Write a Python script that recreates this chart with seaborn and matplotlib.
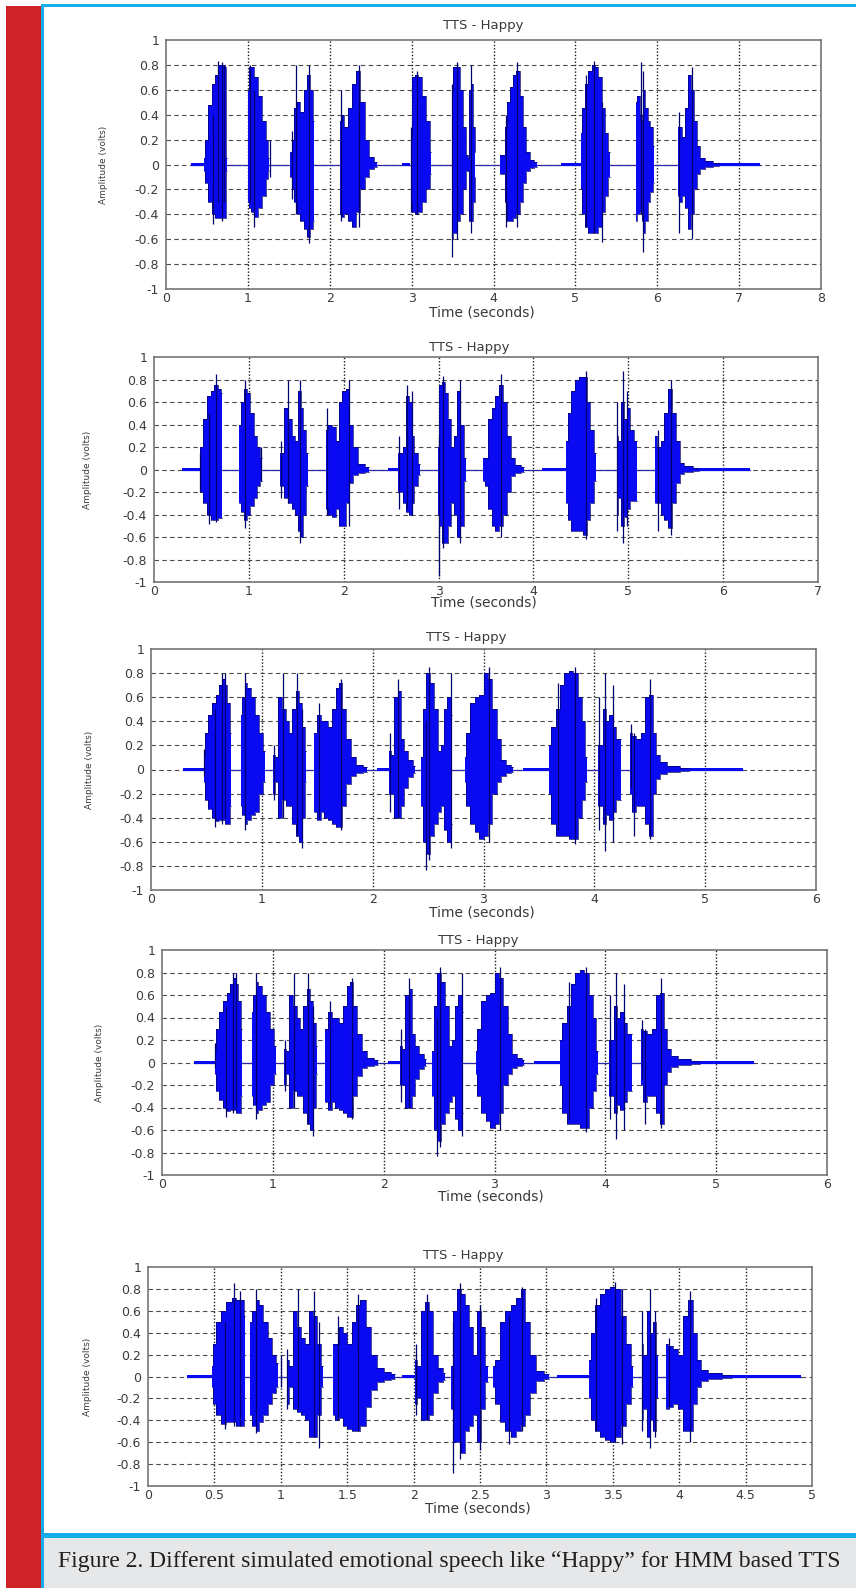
import matplotlib
matplotlib.use("Agg")
import matplotlib.pyplot as plt
import seaborn as sns
from matplotlib.patches import Rectangle

W, H = 856, 1588

# ---------------- panel 1 (0..8 s) ----------------
p1_xmax = 8
p1_span = (0.30, 7.25)
p1_quiet = [(0.30, 0.46), (2.88, 2.98), (4.82, 5.07), (6.75, 7.25)]
p1_t = [
    [0.47, 0.49, 0.54, 0.58, 0.62, 0.66, 0.70, 0.73, 0.74],
    [1.00, 1.02, 1.05, 1.10, 1.15, 1.20, 1.24, 1.26],
    [1.52, 1.55, 1.58, 1.62, 1.66, 1.70, 1.74, 1.78, 1.81],
    [2.13, 2.16, 2.20, 2.25, 2.30, 2.35, 2.40, 2.45, 2.50, 2.58],
    [2.99, 3.02, 3.06, 3.10, 3.15, 3.20, 3.24],
    [3.49, 3.53, 3.57, 3.61, 3.65, 3.68, 3.69, 3.71, 3.74, 3.76, 3.78],
    [4.08, 4.13, 4.14, 4.18, 4.22, 4.26, 4.30, 4.34, 4.38, 4.42, 4.47, 4.53],
    [5.07, 5.10, 5.14, 5.18, 5.22, 5.26, 5.30, 5.34, 5.38, 5.42],
    [5.74, 5.77, 5.80, 5.82, 5.84, 5.87, 5.90, 5.93, 5.96],
    [6.25, 6.28, 6.32, 6.36, 6.40, 6.43, 6.46, 6.50, 6.55, 6.62, 6.75],
]
p1_up = [
    [0.05, 0.2, 0.48, 0.65, 0.72, 0.80, 0.80, 0.78, 0.05],
    [0.6, 0.78, 0.78, 0.7, 0.55, 0.35, 0.2, 0.05],
    [0.1, 0.2, 0.45, 0.5, 0.42, 0.6, 0.72, 0.6, 0.35],
    [0.35, 0.4, 0.3, 0.45, 0.65, 0.75, 0.5, 0.2, 0.06, 0.02],
    [0.2, 0.7, 0.72, 0.7, 0.55, 0.35, 0.1],
    [0.6, 0.78, 0.78, 0.6, 0.3, 0.08, 0.05, 0.6, 0.65, 0.3, 0.1],
    [0.08, 0.08, 0.3, 0.5, 0.62, 0.72, 0.75, 0.55, 0.3, 0.1, 0.04, 0.02],
    [0.25, 0.45, 0.65, 0.75, 0.8, 0.78, 0.7, 0.45, 0.25, 0.1],
    [0.5, 0.55, 0.4, 0.35, 0.6, 0.45, 0.35, 0.3, 0.15],
    [0.3, 0.3, 0.22, 0.45, 0.72, 0.6, 0.35, 0.15, 0.05, 0.03, 0.015],
]
p1_lo = [
    [-0.05, -0.15, -0.3, -0.4, -0.43, -0.43, -0.43, -0.43, -0.05],
    [-0.3, -0.35, -0.38, -0.42, -0.35, -0.25, -0.12, -0.05],
    [-0.1, -0.2, -0.3, -0.4, -0.45, -0.52, -0.58, -0.52, -0.45],
    [-0.4, -0.42, -0.4, -0.45, -0.5, -0.38, -0.2, -0.1, -0.04, -0.02],
    [-0.3, -0.38, -0.4, -0.38, -0.3, -0.2, -0.08],
    [-0.6, -0.55, -0.45, -0.4, -0.2, -0.05, -0.05, -0.45, -0.45, -0.3, -0.1],
    [-0.08, -0.08, -0.3, -0.45, -0.45, -0.43, -0.4, -0.3, -0.15, -0.05, -0.03, -0.02],
    [-0.2, -0.4, -0.5, -0.55, -0.55, -0.55, -0.5, -0.38, -0.25, -0.1],
    [-0.45, -0.4, -0.38, -0.45, -0.55, -0.45, -0.3, -0.22, -0.15],
    [-0.25, -0.3, -0.25, -0.35, -0.52, -0.4, -0.2, -0.08, -0.04, -0.02, -0.01],
]
p1_spikes = [(0.58, 0.4, -0.48), (0.64, 0.83, -0.3), (0.69, 0.82, -0.45), (0.71, 0.8, -0.3),
             (1.03, 0.8, -0.3), (1.08, 0.6, -0.5), (1.27, 0.2, -0.1), (1.54, 0.27, -0.28),
             (1.59, 0.8, -0.4), (1.75, 0.8, -0.63), (2.14, 0.6, -0.45), (2.36, 0.8, -0.5),
             (2.99, 0.3, -0.38), (3.07, 0.75, -0.4), (3.49, 0.65, -0.74), (3.55, 0.82, -0.6),
             (3.72, 0.8, -0.55), (4.15, 0.4, -0.5), (4.29, 0.82, -0.5), (5.13, 0.72, -0.5),
             (5.23, 0.83, -0.55), (5.32, 0.5, -0.62), (5.80, 0.82, -0.4), (5.83, 0.75, -0.7),
             (6.27, 0.42, -0.55), (6.42, 0.78, -0.6)]

# ---------------- panel 2 (0..7 s) ----------------
p2_xmax = 7
p2_span = (0.29, 6.28)
p2_quiet = [(0.29, 0.48), (2.47, 2.57), (4.09, 4.34), (5.75, 6.28)]
p2_t = [
    [0.48, 0.50, 0.54, 0.58, 0.62, 0.65, 0.69, 0.72],
    [0.90, 0.93, 0.96, 1.00, 1.03, 1.07, 1.10, 1.14],
    [1.33, 1.36, 1.39, 1.43, 1.47, 1.50, 1.53, 1.56, 1.59, 1.62],
    [1.81, 1.85, 1.90, 1.93, 1.97, 2.00, 2.04, 2.08, 2.12, 2.18, 2.27],
    [2.57, 2.60, 2.64, 2.67, 2.70, 2.73, 2.76, 2.80],
    [2.99, 3.02, 3.05, 3.08, 3.12, 3.15, 3.18, 3.21, 3.24, 3.29],
    [3.47, 3.50, 3.54, 3.58, 3.62, 3.66, 3.70, 3.74, 3.78, 3.84, 3.90],
    [4.34, 4.38, 4.42, 4.46, 4.50, 4.54, 4.58, 4.62, 4.66],
    [4.88, 4.91, 4.94, 4.97, 5.00, 5.04, 5.09],
    [5.28, 5.32, 5.36, 5.40, 5.44, 5.48, 5.52, 5.56, 5.62, 5.75],
]
p2_up = [
    [0.15, 0.2, 0.45, 0.65, 0.7, 0.75, 0.72, 0.68],
    [0.4, 0.6, 0.72, 0.68, 0.5, 0.3, 0.2, 0.1],
    [0.15, 0.15, 0.55, 0.45, 0.3, 0.25, 0.7, 0.55, 0.35, 0.15],
    [0.35, 0.4, 0.38, 0.25, 0.6, 0.7, 0.72, 0.4, 0.2, 0.05, 0.02],
    [0.15, 0.15, 0.2, 0.65, 0.6, 0.3, 0.15, 0.05],
    [0.2, 0.75, 0.78, 0.68, 0.45, 0.2, 0.3, 0.7, 0.4, 0.1],
    [0.1, 0.1, 0.45, 0.55, 0.65, 0.75, 0.6, 0.3, 0.1, 0.04, 0.02],
    [0.25, 0.5, 0.7, 0.8, 0.82, 0.82, 0.6, 0.35, 0.15],
    [0.3, 0.25, 0.6, 0.45, 0.55, 0.35, 0.25],
    [0.3, 0.2, 0.25, 0.5, 0.72, 0.5, 0.25, 0.06, 0.03, 0.015],
]
p2_lo = [
    [-0.15, -0.2, -0.3, -0.4, -0.45, -0.45, -0.43, -0.43],
    [-0.3, -0.38, -0.45, -0.4, -0.32, -0.25, -0.15, -0.1],
    [-0.15, -0.15, -0.25, -0.3, -0.35, -0.4, -0.55, -0.6, -0.4, -0.15],
    [-0.35, -0.4, -0.42, -0.35, -0.5, -0.5, -0.3, -0.12, -0.05, -0.03, -0.02],
    [-0.2, -0.2, -0.3, -0.38, -0.4, -0.3, -0.15, -0.05],
    [-0.4, -0.5, -0.65, -0.65, -0.5, -0.3, -0.4, -0.6, -0.5, -0.1],
    [-0.1, -0.15, -0.35, -0.5, -0.55, -0.5, -0.4, -0.2, -0.06, -0.03, -0.02],
    [-0.3, -0.45, -0.55, -0.55, -0.55, -0.58, -0.45, -0.3, -0.1],
    [-0.4, -0.25, -0.5, -0.42, -0.35, -0.28, -0.28],
    [-0.3, -0.3, -0.4, -0.45, -0.52, -0.3, -0.12, -0.04, -0.02, -0.01],
]
p2_spikes = [(0.49, 0.15, -0.2), (0.58, 0.5, -0.48), (0.65, 0.85, -0.47), (0.96, 0.8, -0.52),
             (1.13, 0.2, -0.1), (1.34, 0.25, -0.25), (1.41, 0.8, -0.3), (1.54, 0.8, -0.65),
             (1.82, 0.55, -0.4), (2.06, 0.8, -0.5), (2.58, 0.3, -0.35), (2.67, 0.75, -0.35),
             (2.72, 0.7, -0.4), (3.00, 0.3, -0.95), (3.05, 0.83, -0.7), (3.23, 0.8, -0.65),
             (3.66, 0.85, -0.6), (4.55, 0.88, -0.62), (4.88, 0.6, -0.55), (4.94, 0.88, -0.65),
             (4.99, 0.7, -0.5), (5.31, 0.35, -0.55), (5.45, 0.8, -0.58)]

# ---------------- panel 3 (0..6 s), panel 4 shows the same signal ----------------
p3_xmax = 6
p3_span = (0.29, 5.34)
p3_quiet = [(0.29, 0.48), (2.04, 2.15), (3.36, 3.59), (4.85, 5.34)]
p3_t = [
    [0.48, 0.50, 0.53, 0.57, 0.60, 0.63, 0.66, 0.68, 0.70, 0.72],
    [0.81, 0.84, 0.86, 0.88, 0.92, 0.95, 1.00, 1.03],
    [1.10, 1.13, 1.17, 1.20, 1.23, 1.26, 1.29, 1.32, 1.35, 1.38, 1.40],
    [1.47, 1.52, 1.55, 1.58, 1.62, 1.65, 1.68, 1.71, 1.74, 1.78, 1.82, 1.88, 1.95],
    [2.15, 2.18, 2.21, 2.24, 2.27, 2.30, 2.34, 2.38],
    [2.44, 2.47, 2.50, 2.54, 2.57, 2.60, 2.63, 2.66, 2.69, 2.72],
    [2.83, 2.86, 2.90, 2.94, 2.98, 3.02, 3.06, 3.10, 3.14, 3.18, 3.22, 3.27],
    [3.59, 3.63, 3.67, 3.71, 3.75, 3.79, 3.83, 3.87, 3.90, 3.93],
    [4.03, 4.06, 4.09, 4.12, 4.15, 4.18, 4.21, 4.24],
    [4.32, 4.36, 4.40, 4.44, 4.48, 4.51, 4.54, 4.57, 4.61, 4.70, 4.85],
]
p3_up = [
    [0.12, 0.3, 0.45, 0.55, 0.62, 0.7, 0.75, 0.7, 0.55, 0.3],
    [0.45, 0.6, 0.72, 0.68, 0.6, 0.45, 0.3, 0.15],
    [0.12, 0.1, 0.6, 0.5, 0.4, 0.3, 0.5, 0.65, 0.55, 0.35, 0.15],
    [0.3, 0.45, 0.4, 0.4, 0.35, 0.5, 0.68, 0.72, 0.5, 0.25, 0.1, 0.04, 0.02],
    [0.15, 0.12, 0.6, 0.65, 0.25, 0.15, 0.08, 0.03],
    [0.1, 0.5, 0.8, 0.72, 0.5, 0.15, 0.2, 0.5, 0.6, 0.45],
    [0.1, 0.3, 0.55, 0.6, 0.62, 0.8, 0.75, 0.5, 0.25, 0.08, 0.04, 0.02],
    [0.2, 0.35, 0.5, 0.7, 0.8, 0.82, 0.8, 0.6, 0.4, 0.1],
    [0.2, 0.2, 0.5, 0.4, 0.45, 0.35, 0.25, 0.25],
    [0.3, 0.28, 0.25, 0.3, 0.6, 0.62, 0.3, 0.12, 0.06, 0.03, 0.015],
]
p3_lo = [
    [-0.1, -0.25, -0.33, -0.4, -0.43, -0.42, -0.42, -0.45, -0.45, -0.3],
    [-0.3, -0.38, -0.45, -0.42, -0.38, -0.35, -0.2, -0.1],
    [-0.2, -0.1, -0.4, -0.25, -0.3, -0.3, -0.45, -0.55, -0.6, -0.4, -0.1],
    [-0.35, -0.42, -0.35, -0.4, -0.42, -0.45, -0.48, -0.48, -0.3, -0.12, -0.05, -0.03, -0.02],
    [-0.2, -0.2, -0.4, -0.4, -0.3, -0.15, -0.06, -0.03],
    [-0.3, -0.6, -0.7, -0.55, -0.45, -0.35, -0.3, -0.5, -0.6, -0.45],
    [-0.1, -0.3, -0.45, -0.52, -0.58, -0.55, -0.45, -0.2, -0.1, -0.05, -0.03, -0.02],
    [-0.2, -0.45, -0.55, -0.55, -0.55, -0.58, -0.58, -0.4, -0.25, -0.1],
    [-0.3, -0.3, -0.45, -0.38, -0.42, -0.35, -0.25, -0.25],
    [-0.2, -0.35, -0.3, -0.3, -0.45, -0.55, -0.2, -0.08, -0.04, -0.02, -0.01],
]
p3_spikes = [(0.48, 0.17, -0.05), (0.58, 0.5, -0.48), (0.64, 0.8, -0.45), (0.67, 0.8, -0.4),
             (0.85, 0.8, -0.5), (1.11, 0.2, -0.25), (1.19, 0.8, -0.4), (1.32, 0.8, -0.55),
             (1.36, 0.5, -0.65), (1.52, 0.55, -0.4), (1.71, 0.75, -0.5), (2.16, 0.3, -0.35),
             (2.23, 0.75, -0.4), (2.48, 0.4, -0.83), (2.51, 0.85, -0.75), (2.71, 0.8, -0.65),
             (3.05, 0.85, -0.6), (3.67, 0.72, -0.5), (3.83, 0.85, -0.62), (4.04, 0.6, -0.5),
             (4.10, 0.8, -0.68), (4.17, 0.7, -0.6), (4.33, 0.38, -0.15), (4.36, 0.3, -0.55),
             (4.50, 0.75, -0.58)]

# ---------------- panel 5 (0..5 s) ----------------
p5_xmax = 5
p5_span = (0.29, 4.92)
p5_quiet = [(0.29, 0.48), (1.91, 2.01), (3.08, 3.32), (4.40, 4.92)]
p5_t = [
    [0.48, 0.50, 0.53, 0.57, 0.61, 0.65, 0.68, 0.71, 0.73],
    [0.77, 0.80, 0.82, 0.85, 0.88, 0.92, 0.95, 0.98],
    [1.05, 1.08, 1.11, 1.14, 1.17, 1.20, 1.23, 1.26, 1.29, 1.32],
    [1.39, 1.42, 1.45, 1.48, 1.52, 1.55, 1.58, 1.62, 1.66, 1.70, 1.75, 1.80, 1.86],
    [2.01, 2.04, 2.07, 2.10, 2.13, 2.16, 2.20, 2.24],
    [2.28, 2.31, 2.34, 2.37, 2.40, 2.43, 2.46, 2.49, 2.52, 2.56],
    [2.60, 2.63, 2.67, 2.71, 2.75, 2.79, 2.82, 2.86, 2.90, 2.95, 3.02],
    [3.32, 3.35, 3.38, 3.42, 3.46, 3.50, 3.54, 3.58, 3.62, 3.65],
    [3.72, 3.74, 3.77, 3.79, 3.81, 3.84],
    [3.90, 3.93, 3.97, 4.01, 4.05, 4.09, 4.12, 4.15, 4.18, 4.25, 4.40],
]
p5_up = [
    [0.1, 0.3, 0.5, 0.6, 0.68, 0.72, 0.7, 0.7, 0.55],
    [0.5, 0.6, 0.7, 0.65, 0.5, 0.35, 0.2, 0.12],
    [0.15, 0.1, 0.6, 0.45, 0.35, 0.3, 0.6, 0.55, 0.3, 0.1],
    [0.3, 0.3, 0.45, 0.4, 0.3, 0.5, 0.65, 0.7, 0.45, 0.2, 0.08, 0.04, 0.02],
    [0.15, 0.1, 0.6, 0.68, 0.6, 0.2, 0.08, 0.03],
    [0.1, 0.6, 0.8, 0.75, 0.65, 0.45, 0.2, 0.6, 0.45, 0.1],
    [0.1, 0.15, 0.5, 0.6, 0.65, 0.72, 0.8, 0.5, 0.2, 0.05, 0.02],
    [0.15, 0.4, 0.65, 0.75, 0.8, 0.82, 0.8, 0.55, 0.3, 0.1],
    [0.3, 0.2, 0.6, 0.4, 0.5, 0.2],
    [0.3, 0.28, 0.25, 0.2, 0.55, 0.7, 0.4, 0.15, 0.06, 0.03, 0.015],
]
p5_lo = [
    [-0.1, -0.25, -0.35, -0.43, -0.42, -0.42, -0.45, -0.45, -0.4],
    [-0.35, -0.45, -0.5, -0.42, -0.35, -0.25, -0.15, -0.1],
    [-0.25, -0.1, -0.3, -0.32, -0.35, -0.4, -0.55, -0.55, -0.35, -0.1],
    [-0.35, -0.4, -0.38, -0.45, -0.48, -0.5, -0.5, -0.45, -0.28, -0.12, -0.05, -0.03, -0.02],
    [-0.25, -0.2, -0.4, -0.4, -0.35, -0.15, -0.05, -0.03],
    [-0.3, -0.6, -0.6, -0.7, -0.5, -0.45, -0.35, -0.6, -0.3, -0.05],
    [-0.1, -0.25, -0.42, -0.5, -0.55, -0.5, -0.45, -0.35, -0.15, -0.04, -0.02],
    [-0.2, -0.4, -0.5, -0.55, -0.58, -0.6, -0.55, -0.45, -0.25, -0.1],
    [-0.4, -0.3, -0.55, -0.4, -0.5, -0.2],
    [-0.3, -0.28, -0.25, -0.3, -0.5, -0.5, -0.25, -0.1, -0.04, -0.02, -0.01],
]
p5_spikes = [(0.58, 0.5, -0.48), (0.65, 0.85, -0.45), (0.69, 0.78, -0.45), (0.81, 0.8, -0.52),
             (1.00, 0.2, -0.1), (1.05, 0.25, -0.3), (1.13, 0.8, -0.3), (1.25, 0.78, -0.55),
             (1.29, 0.5, -0.65), (1.43, 0.55, -0.4), (1.58, 0.75, -0.5), (2.02, 0.3, -0.35),
             (2.10, 0.75, -0.4), (2.30, 0.5, -0.88), (2.35, 0.85, -0.75), (2.50, 0.65, -0.67),
             (2.72, 0.55, -0.62), (2.82, 0.82, -0.5), (3.37, 0.72, -0.5), (3.52, 0.86, -0.6),
             (3.57, 0.8, -0.62), (3.72, 0.6, -0.5), (3.78, 0.8, -0.65), (3.82, 0.6, -0.55),
             (3.92, 0.35, -0.3), (4.08, 0.78, -0.6)]

y_ticks = [-1, -0.8, -0.6, -0.4, -0.2, 0, 0.2, 0.4, 0.6, 0.8, 1]
y_labels = ["-1", "-0.8", "-0.6", "-0.4", "-0.2", "0", "0.2", "0.4", "0.6", "0.8", "1"]
caption = "Figure 2. Different simulated emotional speech like \u201cHappy\u201d for HMM based TTS"

sns.set_theme(style="white")
plt.rcParams["font.family"] = ["DejaVu Sans"]

fig = plt.figure(figsize=(W / 100, H / 100), dpi=100)
fig.patch.set_facecolor("white")

wave_fill = "#0a0af2"
wave_edge = "#00006e"
txt = "#3a3a3a"


def px_axes(l, r, t, b):
    return fig.add_axes([l / W, 1 - b / H, (r - l) / W, (b - t) / H])


def draw_panel(box, xmax, xstep, span, quiet, ts, ups, los, spikes, title_xy, xlabel_xy, ylabel_x):
    ax = px_axes(*box)
    ax.set_xlim(0, xmax)
    ax.set_ylim(-1, 1)
    n = int(round(xmax / xstep))
    xt = [i * xstep for i in range(n + 1)]
    ax.set_xticks(xt)
    ax.set_xticklabels([f"{v:g}" for v in xt])
    ax.set_yticks(y_ticks)
    ax.set_yticklabels(y_labels)
    ax.tick_params(length=0, labelsize=9, colors=txt)
    ax.tick_params(axis="x", pad=2)
    ax.tick_params(axis="y", pad=5)
    for sp in ax.spines.values():
        sp.set_color("#6a6a6a")
        sp.set_linewidth(1.1)
    for x in xt[1:-1]:
        ax.axvline(x, color="#1a1a1a", lw=1.0, ls=(0, (1, 1.4)), zorder=1)
    for y in y_ticks[1:-1]:
        ax.axhline(y, color="#4a4a4a", lw=0.8, ls=(0, (4, 3)), zorder=1)

    sns.lineplot(x=list(span), y=[0, 0], color="#2a2aa8", lw=0.9, ax=ax, zorder=2)
    for q0, q1 in quiet:
        ax.fill_between([q0, q1], -0.013, 0.013, color=wave_fill, lw=0, zorder=3)
    for t, u, lo in zip(ts, ups, los):
        ax.fill_between(t, lo, u, step="mid", color=wave_fill, lw=0, zorder=3)
        sns.lineplot(x=t, y=u, drawstyle="steps-mid", color=wave_edge, lw=0.5,
                     estimator=None, sort=False, ax=ax, zorder=4)
        sns.lineplot(x=t, y=lo, drawstyle="steps-mid", color=wave_edge, lw=0.5,
                     estimator=None, sort=False, ax=ax, zorder=4)
    ax.vlines([s[0] for s in spikes], [s[2] for s in spikes], [s[1] for s in spikes],
              color=wave_edge, lw=0.9, zorder=5)
    ax.set_xlabel("")
    ax.set_ylabel("")

    fig.text(title_xy[0] / W, 1 - title_xy[1] / H, "TTS - Happy", ha="center", va="center",
             fontsize=9.5, color=txt)
    fig.text(xlabel_xy[0] / W, 1 - xlabel_xy[1] / H, "Time (seconds)", ha="center", va="center",
             fontsize=10, color=txt)
    fig.text(ylabel_x / W, 1 - (box[2] + box[3]) / 2 / H, "Amplitude (volts)", ha="center",
             va="center", rotation=90, fontsize=6.5, color=txt)
    return ax


draw_panel((166, 821, 40, 289), p1_xmax, 1, p1_span, p1_quiet, p1_t, p1_up, p1_lo, p1_spikes,
           (483, 26), (482, 313), 103)
draw_panel((154, 818, 357, 582), p2_xmax, 1, p2_span, p2_quiet, p2_t, p2_up, p2_lo, p2_spikes,
           (469, 348), (484, 603), 88)
draw_panel((151, 816, 649, 890), p3_xmax, 1, p3_span, p3_quiet, p3_t, p3_up, p3_lo, p3_spikes,
           (466, 638), (482, 912), 89)
draw_panel((162, 827, 950, 1175), p3_xmax, 1, p3_span, p3_quiet, p3_t, p3_up, p3_lo, p3_spikes,
           (478, 941), (491, 1196), 100)
draw_panel((148, 812, 1267, 1486), p5_xmax, 0.5, p5_span, p5_quiet, p5_t, p5_up, p5_lo, p5_spikes,
           (463, 1256), (478, 1508), 88)

# page frame: red side bar, blue rules, grey caption box
def px_rect(x0, y0, x1, y1, color):
    fig.patches.append(Rectangle((x0 / W, 1 - y1 / H), (x1 - x0) / W, (y1 - y0) / H,
                                 transform=fig.transFigure, color=color, lw=0, zorder=0))


px_rect(6, 6, 41, H, "#cf2128")
px_rect(41, 4, 44, H, "#16aeea")
px_rect(41, 4, W, 7, "#16aeea")
px_rect(44, 1538, W, H, "#e6e7e9")
px_rect(44, 1533, W, 1538, "#16aeea")

fig.text(58 / W, 1 - 1561 / H, caption, ha="left", va="center",
         family=["Liberation Serif", "DejaVu Serif"], fontsize=17, color="#231f20")

fig.savefig("out.png", dpi=100)
